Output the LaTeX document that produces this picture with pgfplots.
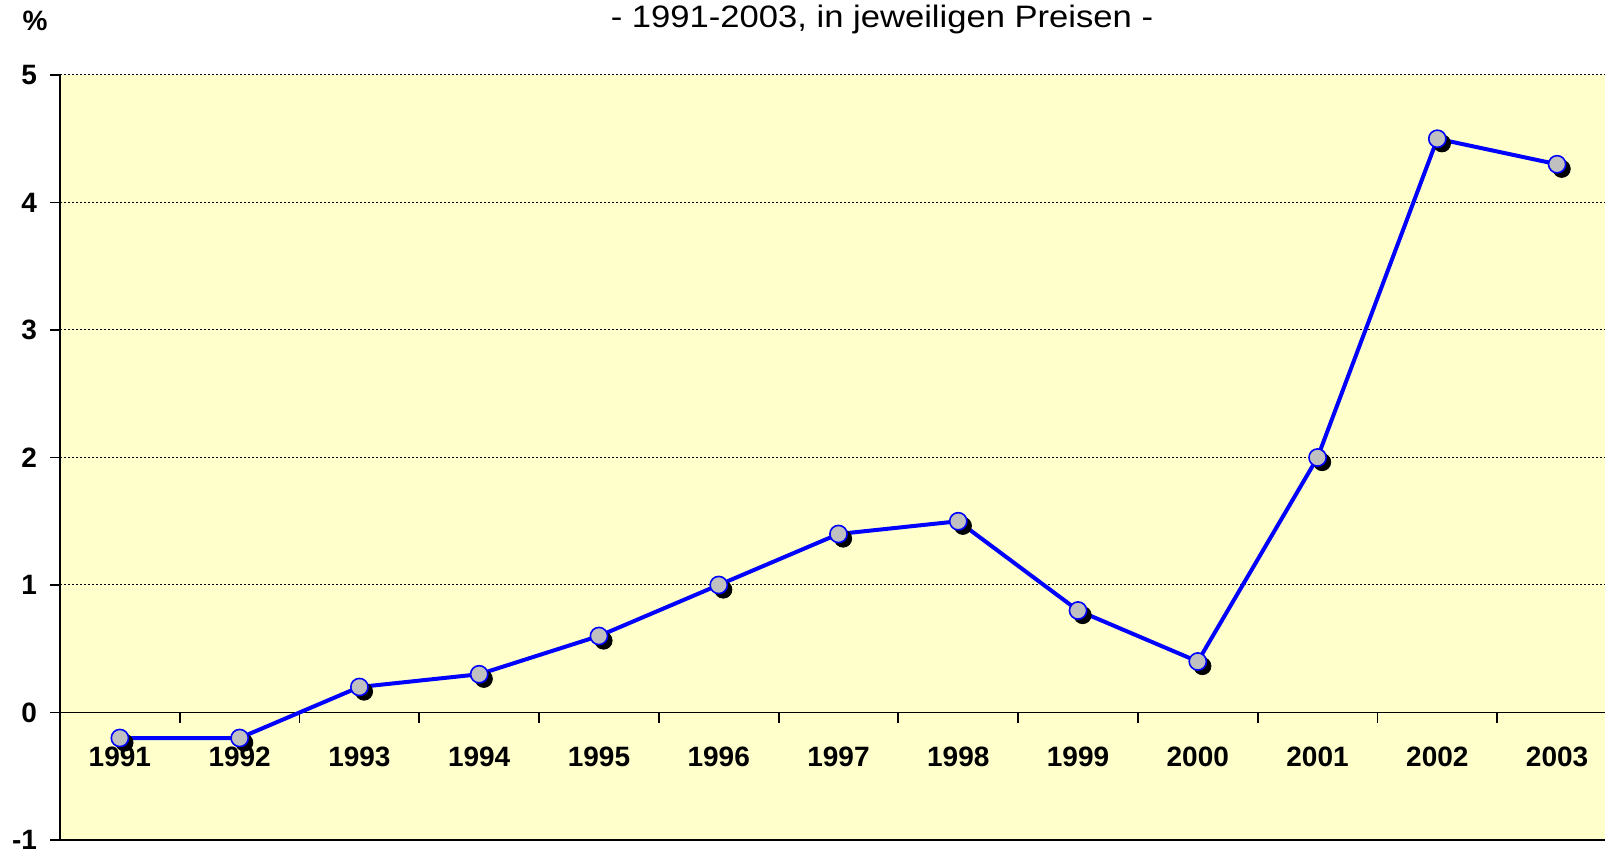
\documentclass[border=0pt]{standalone}
\usepackage{graphicx}
\usepackage{pgfplots}
\pgfplotsset{compat=1.18}
\usepackage{fontspec}
\setmainfont{Liberation Sans}
\definecolor{bgyellow}{RGB}{255,255,204}
\definecolor{silvergray}{RGB}{192,192,192}
\begin{document}
\begin{tikzpicture}
\useasboundingbox (-30pt,-5.5pt) rectangle (772.5pt,420pt);
\begin{axis}[
  at={(0pt,0pt)}, anchor=south west,
  scale only axis,
  width=772.5pt, height=382.5pt,
  xmin=-0.5, xmax=12.4,
  ymin=-1, ymax=5,
  axis x line=middle,
  axis y line=left,
  axis line style={-, black, line width=0.9pt},
  axis background/.style={fill=bgyellow},
  xtick={0,...,12},
  xticklabels={1991,1992,1993,1994,1995,1996,1997,1998,1999,2000,2001,2002,2003},
  minor xtick={0.5,1.5,...,11.5},
  major x tick style={draw=none},
  minor x tick style={black, line width=0.9pt},
  ytick={-1,0,1,2,3,4,5},
  yticklabels={-1,0,1,2,3,4,5},
  y tick style={black, line width=0.9pt},
  tick align=outside,
  major tick length=5pt,
  minor tick length=5pt,
  ymajorgrids,
  major y grid style={black, line width=0.5pt, dash pattern=on 1pt off 1pt},
  tick label style={font=\fontsize{14}{16}\selectfont\bfseries},
  xticklabel style={yshift=-8.5pt},
  yticklabel style={xshift=-3pt},
  clip=false,
]
\draw[black, line width=1pt] (rel axis cs:0,0) -- (rel axis cs:1,0);
\addplot[draw=none, mark=*, mark size=4.3pt,
  mark options={fill=black, draw=black, xshift=2.3pt, yshift=-2.3pt}]
  coordinates {(0,-0.2) (1,-0.2) (2,0.2) (3,0.3) (4,0.6) (5,1.0) (6,1.4) (7,1.5) (8,0.8) (9,0.4) (10,2.0) (11,4.5) (12,4.3)};
\addplot[blue, line width=2pt, mark=*, mark size=4.3pt,
  mark options={fill=silvergray, draw=blue, line width=0.8pt}]
  coordinates {(0,-0.2) (1,-0.2) (2,0.2) (3,0.3) (4,0.6) (5,1.0) (6,1.4) (7,1.5) (8,0.8) (9,0.4) (10,2.0) (11,4.5) (12,4.3)};
\end{axis}
\node[anchor=base, font=\fontsize{15.5}{17}\selectfont] at (411pt,406pt) {\scalebox{1.116}[1]{- 1991-2003, in jeweiligen Preisen -}};
\node[anchor=center, font=\fontsize{14}{16}\selectfont\bfseries] at (-12.5pt,409.5pt) {\%};
\end{tikzpicture}
\end{document}
